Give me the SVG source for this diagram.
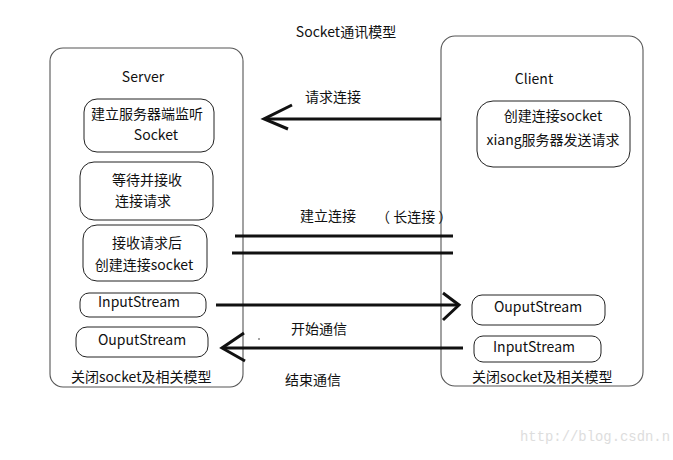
<svg xmlns="http://www.w3.org/2000/svg" width="673" height="460" viewBox="0 0 673 460">
<style>
text{font-family:"Noto Sans CJK SC","Noto Sans",sans-serif;font-size:14px;fill:#111;}
.c{text-anchor:middle;}
.cont{fill:none;stroke:#555;stroke-width:1.1;}
.box{fill:#fff;stroke:#222;stroke-width:1;}
.ln{fill:none;stroke:#111;stroke-width:3;}
.wm{font-family:"Liberation Mono",monospace;font-size:14px;fill:#ddd;}
</style>
<rect width="673" height="460" fill="#fff"/>
<text class="c" x="346" y="37">Socket通讯模型</text>
<g id="server">
<rect class="cont" x="50" y="48" width="193" height="339" rx="13"/>
<text class="c" x="143" y="82">Server</text>
</g>
<g id="s1"><rect class="box" x="84" y="99" width="130" height="53" rx="13"/>
<text x="91" y="119">建立服务器端监听</text><text class="c" x="156" y="140">Socket</text></g>
<g id="s2"><rect class="box" x="80" y="162" width="133" height="58" rx="14"/>
<text class="c" x="147" y="185">等待并接收</text><text class="c" x="143" y="206">连接请求</text></g>
<g id="s3"><rect class="box" x="83" y="225" width="124" height="56" rx="14"/>
<text class="c" x="147" y="248">接收请求后</text><text class="c" x="144" y="270">创建连接socket</text></g>
<g id="s4"><rect class="box" x="80" y="293" width="126" height="24" rx="9"/>
<text class="c" x="139" y="307">InputStream</text></g>
<g id="s5"><rect class="box" x="76" y="327" width="132" height="30" rx="11"/>
<text class="c" x="142" y="345">OuputStream</text></g>
<text x="71" y="382">关闭socket及相关模型</text>
<g id="client">
<rect class="cont" x="441" y="36" width="202" height="350" rx="14"/>
<text class="c" x="534" y="84">Client</text>
</g>
<g id="c1"><rect class="box" x="477" y="101" width="153" height="66" rx="16"/>
<text class="c" x="553" y="121">创建连接socket</text><text class="c" x="553" y="145">xiang服务器发送请求</text></g>
<g id="c2"><rect class="box" x="472" y="295" width="133" height="30" rx="10"/>
<text class="c" x="538" y="312">OuputStream</text></g>
<g id="c3"><rect class="box" x="474" y="336" width="127" height="26" rx="9"/>
<text class="c" x="534" y="352">InputStream</text></g>
<text x="472" y="382">关闭socket及相关模型</text>
<g id="connectors">
<line class="ln" x1="441" y1="119" x2="265" y2="119"/>
<polyline class="ln" points="292,105 264,119 288,129"/>
<line class="ln" x1="235" y1="236" x2="453" y2="236"/>
<line class="ln" x1="232" y1="253" x2="453" y2="253"/>
<line class="ln" x1="216" y1="305" x2="458" y2="305"/>
<polyline class="ln" points="443,293 459,305 443,320"/>
<line class="ln" x1="463" y1="348" x2="223" y2="348"/>
<polyline class="ln" points="244,333 222,348 245,361"/>
</g>
<text x="305" y="102">请求连接</text>
<text x="300" y="221">建立连接</text>
<text x="376" y="222">（ 长连接 ）</text>
<text x="291" y="334">开始通信</text>
<circle cx="259" cy="339" r="0.8" fill="#333"/>
<text x="285" y="385">结束通信</text>
<text class="wm" x="520" y="441" textLength="150" lengthAdjust="spacingAndGlyphs">http://blog.csdn.n</text>
</svg>
